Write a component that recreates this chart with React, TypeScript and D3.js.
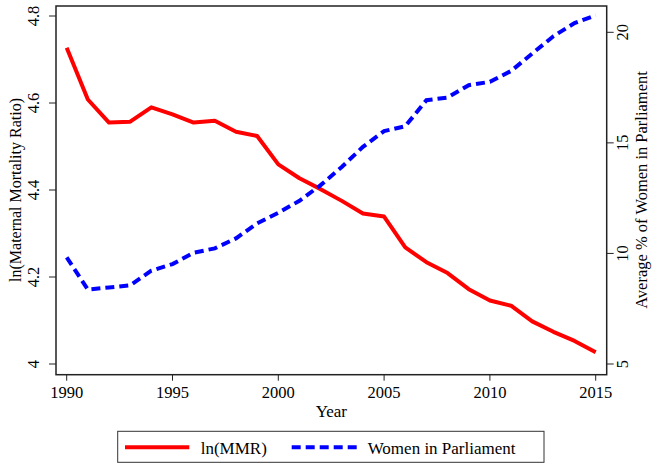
import React from "react";
import * as d3 from "d3";

const years = d3.range(1990, 2016);
const lnMMR = [4.727, 4.608, 4.555, 4.557, 4.590, 4.574, 4.555, 4.559, 4.534, 4.524, 4.459, 4.427, 4.402, 4.375, 4.346, 4.339, 4.268, 4.234, 4.209, 4.172, 4.146, 4.134, 4.098, 4.074, 4.053, 4.027];
const women = [9.82, 8.37, 8.46, 8.56, 9.22, 9.52, 10.03, 10.23, 10.68, 11.36, 11.84, 12.38, 13.09, 13.91, 14.82, 15.53, 15.75, 16.93, 17.05, 17.61, 17.76, 18.25, 19.04, 19.82, 20.42, 20.77];
const xTicks = [1990, 1995, 2000, 2005, 2010, 2015];
const leftTicks = [4, 4.2, 4.4, 4.6, 4.8];
const rightTicks = [5, 10, 15, 20];

export default function App() {
  const W = 652, H = 466;
  const fL = 56, fR = 606.7, fT = 6, fB = 374.7;
  const x = d3.scaleLinear().domain([1990, 2015]).range([66.7, 595.7]);
  const yL = d3.scaleLinear().domain([4, 4.8]).range([364, 16]);
  const yR = d3.scaleLinear().domain([5, 20]).range([364, 32.3]);
  const lineL = d3.line<number>().x((_, i) => x(years[i])).y(d => yL(d));
  const lineR = d3.line<number>().x((_, i) => x(years[i])).y(d => yR(d));
  const font = "'Liberation Serif', 'Times New Roman', serif";
  const fmtL = (v: number) => (v === 4 ? "4" : v.toFixed(1));
  return (
    <svg width={W} height={H} style={{ position: "absolute", left: 0, top: 0, background: "#fff" }} fontFamily={font}>
      <rect x={0} y={0} width={W} height={H} fill="#fff" />
      <path d={lineL(lnMMR) || ""} fill="none" stroke="#ff0000" strokeWidth={4} strokeLinejoin="round" />
      <path d={lineR(women) || ""} fill="none" stroke="#0000ff" strokeWidth={4} strokeDasharray="9 5" />
      <rect x={fL} y={fT} width={fR - fL} height={fB - fT} fill="none" stroke="#222" strokeWidth={1.5} />
      {xTicks.map(t => (
        <g key={t}>
          <line x1={x(t)} x2={x(t)} y1={fB} y2={fB + 6} stroke="#222" strokeWidth={1} />
          <text x={x(t)} y={397.5} textAnchor="middle" fontSize={16.5} fill="#000">{t}</text>
        </g>
      ))}
      <text x={(fL + fR) / 2} y={417} textAnchor="middle" fontSize={17} fill="#000">Year</text>
      {leftTicks.map(t => (
        <g key={t}>
          <line x1={fL - 7} x2={fL} y1={yL(t)} y2={yL(t)} stroke="#222" strokeWidth={1} />
          <text transform={`translate(39,${yL(t)}) rotate(-90)`} textAnchor="middle" fontSize={16.5} fill="#000">{fmtL(t)}</text>
        </g>
      ))}
      <text transform={`translate(21,${(16 + 364) / 2}) rotate(-90)`} textAnchor="middle" fontSize={16} fill="#000">ln(Maternal Mortality Ratio)</text>
      {rightTicks.map(t => (
        <g key={t}>
          <line x1={fR} x2={fR + 7} y1={yR(t)} y2={yR(t)} stroke="#222" strokeWidth={1} />
          <text transform={`translate(628,${yR(t)}) rotate(-90)`} textAnchor="middle" fontSize={16.5} fill="#000">{t}</text>
        </g>
      ))}
      <text transform={`translate(647,${(16 + 364) / 2}) rotate(-90)`} textAnchor="middle" fontSize={16.5} fill="#000">Average % of Women in Parliament</text>
      <rect x={117.7} y={431.3} width={544 - 117.7} height={462.3 - 431.3} fill="#fff" stroke="#333" strokeWidth={1} />
      <line x1={125} x2={189.3} y1={447.3} y2={447.3} stroke="#ff0000" strokeWidth={4} />
      <text x={200.7} y={453.5} fontSize={17} fill="#000">ln(MMR)</text>
      <line x1={291.7} x2={357.3} y1={447.3} y2={447.3} stroke="#0000ff" strokeWidth={4} strokeDasharray="9 5" />
      <text x={367.7} y={453.5} fontSize={17} fill="#000">Women in Parliament</text>
    </svg>
  );
}
